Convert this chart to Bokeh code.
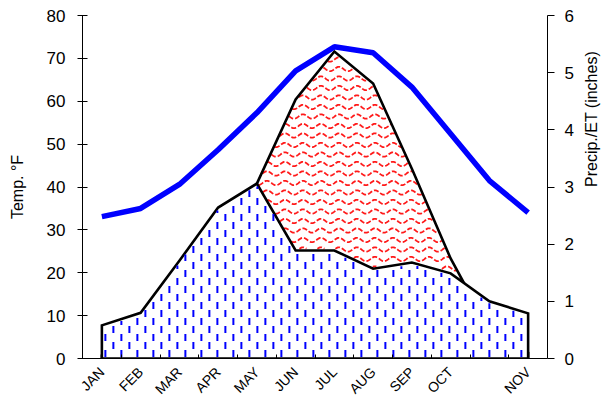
from bokeh.plotting import figure
from bokeh.models import Range1d, LinearAxis, FixedTicker
from bokeh.embed import file_html
from bokeh.resources import INLINE
import numpy as np
import math

# ---- data ----
months = ["JAN", "FEB", "MAR", "APR", "MAY", "JUN", "JUL", "AUG", "SEP", "OCT", "NOV", "DEC"]
tick_labels = ["JAN", "FEB", "MAR", "APR", "MAY", "JUN", "JUL", "AUG", "SEP", "OCT", "", "NOV"]
temp_f = [33.1, 35.0, 40.6, 48.7, 57.3, 67.1, 72.7, 71.3, 63.3, 52.4, 41.5, 34.0]
precip_in = [0.58, 0.80, 1.71, 2.64, 3.06, 1.89, 1.89, 1.57, 1.68, 1.49, 1.00, 0.79]
et_in = [0.05, 0.15, 0.80, 1.70, 3.06, 4.53, 5.37, 4.81, 3.32, 1.75, 0.50, 0.10]

FONT = "Liberation Sans"
FW, FH = 465, 343          # frame size in px
XMAX, YMAX_IN = len(months), 6.0
PXX = FW / XMAX            # px per category
PXY = FH / YMAX_IN         # px per inch

x = [i + 0.5 for i in range(len(months))]

p = figure(frame_width=FW, frame_height=FH, output_backend="svg", toolbar_location=None,
           x_range=Range1d(0, XMAX), y_range=Range1d(0, 80),
           min_border_left=82, min_border_right=58, min_border_top=15, min_border_bottom=51)
p.extra_y_ranges = {"precip": Range1d(0, YMAX_IN)}
p.outline_line_color = None
p.xgrid.grid_line_color = None
p.ygrid.grid_line_color = None
p.background_fill_color = "white"
p.border_fill_color = "white"

xa_arr = np.array(x)
P = np.array(precip_in)
E = np.array(et_in)
px = [x[0]] + x + [x[-1]]

# ---- red wave pattern where ET exceeds precipitation ----
p.patch(px, [0] + et_in + [0], y_range_name="precip", fill_color="white", line_color=None)
xs_px = np.arange(x[0] * PXX, x[-1] * PXX, 0.5)
xs = xs_px / PXX
p_top = np.interp(xs, xa_arr, P) * PXY
e_top = np.interp(xs, xa_arr, E) * PXY
wave_x, wave_y = [], []
for row in np.arange(4.5, FH, 9.5):
    wy = row + 2.2 * np.sin(2 * np.pi * xs_px / 18.0)
    inside = (wy > p_top + 1.5) & (wy < e_top - 1.5)
    idx = np.flatnonzero(inside)
    if idx.size == 0:
        continue
    breaks = np.flatnonzero(np.diff(idx) > 1)
    starts = np.r_[0, breaks + 1]
    ends = np.r_[breaks, idx.size - 1]
    for s, e in zip(starts, ends):
        seg = idx[s:e + 1]
        if seg.size < 2:
            continue
        wave_x.append(list(xs[seg]))
        wave_y.append(list(wy[seg] / PXY))
p.multi_line(wave_x, wave_y, y_range_name="precip", line_color="red", line_alpha=0.9,
             line_width=1.8, line_dash="5 2")
p.patch(px, [0] + et_in + [0], y_range_name="precip", fill_color=None,
        line_color="black", line_width=2.6, line_join="miter")

# ---- precipitation area with staggered blue dashes ----
p.patch(px, [0] + precip_in + [0], y_range_name="precip", fill_color="white",
        line_color="black", line_width=2.6, line_join="miter")
d_x0, d_y0, d_x1, d_y1 = [], [], [], []
col_px = np.arange(x[0] * PXX + 3.5, x[-1] * PXX - 2, 8.0)
for k, cx in enumerate(col_px):
    cxd = cx / PXX
    top = np.interp(cxd, xa_arr, P) * PXY - 2.0
    start = 1.5 if k % 2 == 0 else 9.5
    for y0 in np.arange(start, top, 16.0):
        y1 = min(y0 + 7.0, top)
        if y1 - y0 < 1.5:
            continue
        d_x0.append(cxd); d_x1.append(cxd)
        d_y0.append(y0 / PXY); d_y1.append(y1 / PXY)
p.segment(d_x0, d_y0, d_x1, d_y1, y_range_name="precip", line_color="blue",
          line_width=2, line_cap="butt")

# ---- temperature ----
p.line(x, temp_f, line_color="blue", line_width=5.5)

# x axis
xa = p.xaxis[0]
xa.ticker = FixedTicker(ticks=x, minor_ticks=list(range(1, len(months))))
xa.major_label_overrides = {xi: lab for xi, lab in zip(x, tick_labels)}
xa.major_tick_line_color = None
xa.major_tick_in = 0
xa.major_tick_out = 0
xa.minor_tick_in = 4
xa.minor_tick_out = 0
xa.minor_tick_line_color = "black"
xa.major_label_orientation = math.pi / 4
xa.major_label_text_font = FONT
xa.major_label_text_font_size = "14px"
xa.major_label_text_color = "black"
xa.major_label_standoff = 11
xa.axis_line_color = "black"
xa.axis_line_width = 1

# left axis
ya = p.yaxis[0]
ya.ticker = FixedTicker(ticks=list(range(0, 81, 10)))
ya.minor_tick_line_color = None
ya.major_tick_in = 5
ya.major_tick_out = 5
ya.major_label_standoff = 12
ya.major_label_text_font = FONT
ya.major_label_text_font_size = "17px"
ya.major_label_text_color = "black"
ya.axis_label = "Temp. °F"
ya.axis_label_text_font = FONT
ya.axis_label_text_font_size = "16px"
ya.axis_label_text_font_style = "normal"
ya.axis_label_text_color = "black"
ya.axis_label_standoff = 18

# right axis
ra = LinearAxis(y_range_name="precip", ticker=FixedTicker(ticks=[0, 1, 2, 3, 4, 5, 6]))
ra.minor_tick_line_color = None
ra.major_tick_in = 0
ra.major_tick_out = 7
ra.major_label_standoff = 10
ra.major_label_text_font = FONT
ra.major_label_text_font_size = "17px"
ra.major_label_text_color = "black"
ra.axis_label = "Precip./ET (inches)"
ra.axis_label_text_font = FONT
ra.axis_label_text_font_size = "16px"
ra.axis_label_text_font_style = "normal"
ra.axis_label_text_color = "black"
ra.axis_label_standoff = 15
try:
    ra.axis_label_orientation = math.pi / 2
except Exception:
    pass
p.add_layout(ra, "right")

open("out.html", "w").write(file_html(p, INLINE))
